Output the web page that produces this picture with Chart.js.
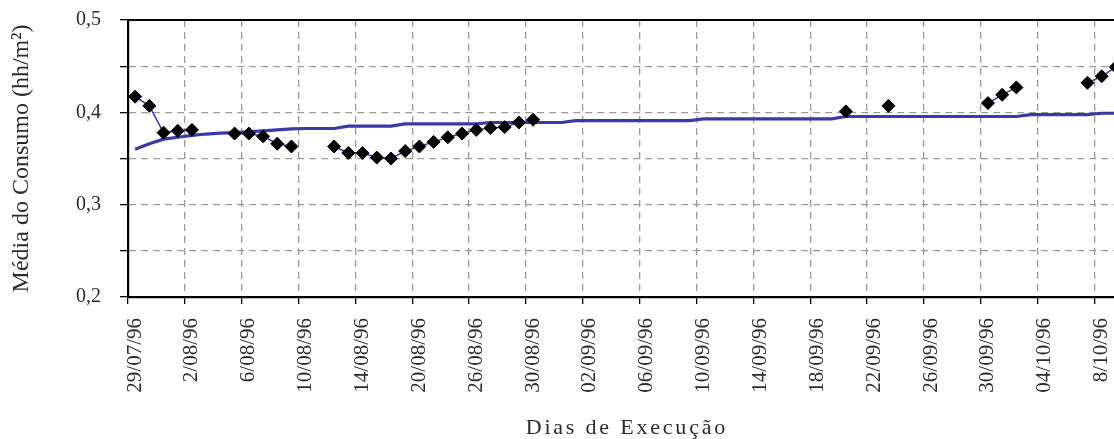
<!DOCTYPE html>
<html lang="pt">
<head>
<meta charset="utf-8">
<title>Média do Consumo por Dias de Execução</title>
<script src="https://cdn.jsdelivr.net/npm/chart.js@4/dist/chart.umd.min.js"></script>
<style>
  html, body { margin: 0; padding: 0; background: #ffffff; overflow: hidden; }
  #wrap { width: 1114px; height: 439px; overflow: hidden; }
  canvas { display: block; }
</style>
</head>
<body>
<div id="wrap"><canvas id="chart" width="1160" height="439"></canvas></div>
<script>
// Dates shown under every fourth execution day
const dateLabels = ['29/07/96', '2/08/96', '6/08/96', '10/08/96', '14/08/96', '20/08/96',
  '26/08/96', '30/08/96', '02/09/96', '06/09/96', '10/09/96', '14/09/96', '18/09/96',
  '22/09/96', '26/09/96', '30/09/96', '04/10/96', '8/10/96'];

// Measured daily consumption (hh/m²); null = no measurement that day
const measured = [
  0.417, 0.407, 0.378, 0.380, 0.381, null, null, 0.377, 0.377, 0.374,
  0.366, 0.363, null, null, 0.363, 0.356, 0.356, 0.351, 0.350, 0.358,
  0.363, 0.368, 0.373, 0.377, 0.381, 0.383, 0.384, 0.389, 0.392, null,
  null, null, null, null, null, null, null, null, null, null,
  null, null, null, null, null, null, null, null, null, null,
  0.401, null, null, 0.407, null, null, null, null, null, null,
  0.410, 0.419, 0.427, null, null, null, null, 0.432, 0.439, 0.449
];

// Mean consumption curve
const meanCurve = [
  0.360, 0.366, 0.371, 0.373, 0.375, 0.3765, 0.3775, 0.378, 0.379, 0.380,
  0.381, 0.382, 0.3825, 0.3825, 0.3825, 0.385, 0.385, 0.385, 0.385, 0.3875,
  0.3875, 0.3875, 0.3875, 0.3875, 0.3875, 0.389, 0.389, 0.389, 0.389, 0.389,
  0.389, 0.391, 0.391, 0.391, 0.391, 0.391, 0.391, 0.391, 0.391, 0.391,
  0.393, 0.393, 0.393, 0.393, 0.393, 0.393, 0.393, 0.393, 0.393, 0.393,
  0.3955, 0.3955, 0.3955, 0.3955, 0.3955, 0.3955, 0.3955, 0.3955, 0.3955, 0.3955,
  0.3955, 0.3955, 0.3955, 0.3975, 0.3975, 0.3975, 0.3975, 0.3975, 0.399, 0.399
];

const yTicks = { min: 0.2, max: 0.5, step: 0.05 };
const labelEvery = 4;

// One category per execution day, dated every fourth day
const categories = measured.map((_, i) => (i % labelEvery === 0 ? dateLabels[i / labelEvery] : ''));

const serif = 'Liberation Serif';
const textColor = '#2b2b2b';
const gridColor = '#9a9a9a';
const blue = '#3a3aa6';
const clear = 'rgba(0,0,0,0)';

// Solid frame line along the top of the plot area
const framePlugin = {
  id: 'frameTop',
  afterDraw(chart) {
    const { ctx, chartArea: a } = chart;
    ctx.save();
    ctx.strokeStyle = '#000';
    ctx.lineWidth = 2.2;
    ctx.beginPath();
    ctx.moveTo(a.left, a.top);
    ctx.lineTo(a.right, a.top);
    ctx.lineTo(a.right, a.bottom);
    ctx.stroke();
    ctx.restore();
  }
};

// Letter-spaced caption under the x axis
const xCaptionPlugin = {
  id: 'xCaption',
  afterDraw(chart, args, opts) {
    const { ctx, chartArea: a } = chart;
    ctx.save();
    ctx.font = opts.size + 'px "' + serif + '"';
    ctx.fillStyle = textColor;
    ctx.textAlign = 'center';
    ctx.textBaseline = 'alphabetic';
    if ('letterSpacing' in ctx) ctx.letterSpacing = opts.spacing + 'px';
    ctx.fillText(opts.text, (a.left + a.right) / 2 + opts.spacing / 2, opts.baseline);
    ctx.restore();
  }
};

new Chart(document.getElementById('chart'), {
  type: 'line',
  data: {
    labels: categories,
    datasets: [
      {
        label: 'Consumo diário',
        data: measured,
        borderColor: blue,
        borderWidth: 1.5,
        pointStyle: 'rectRot',
        pointRadius: 6.5,
        pointBackgroundColor: '#000',
        pointBorderColor: '#000',
        pointBorderWidth: 1,
        spanGaps: false,
        tension: 0
      },
      {
        label: 'Média',
        data: meanCurve,
        borderColor: blue,
        borderWidth: 3.2,
        pointRadius: 0,
        tension: 0
      }
    ]
  },
  options: {
    responsive: false,
    animation: false,
    devicePixelRatio: 1,
    layout: { padding: { top: 20, right: 37, left: 0, bottom: 0 } },
    plugins: {
      legend: { display: false },
      tooltip: { enabled: false },
      xCaption: { text: 'Dias de Execução', size: 22, spacing: 2.8, baseline: 434 }
    },
    scales: {
      x: {
        type: 'category',
        offset: true,
        grid: {
          offset: true,
          drawOnChartArea: true,
          lineWidth: 1.3,
          color: (c) => (c.index % labelEvery === 0 ? gridColor : clear),
          tickColor: (c) => (c.index % labelEvery === 0 ? '#000' : clear),
          tickLength: 7,
          tickWidth: 1.3
        },
        border: { display: true, color: '#000', width: 2.2, dash: [7, 5] },
        ticks: {
          autoSkip: false,
          minRotation: 90,
          maxRotation: 90,
          padding: 14,
          color: textColor,
          font: { family: serif, size: 21 }
        },
        afterFit(scale) {
          scale.height = 142;
          scale.paddingLeft = 0;
          scale.paddingRight = 0;
        }
      },
      y: {
        min: yTicks.min,
        max: yTicks.max,
        grid: {
          lineWidth: 1.3,
          color: (c) => {
            const v = c.tick ? c.tick.value : NaN;
            return (Math.abs(v - yTicks.min) < 1e-6 || Math.abs(v - yTicks.max) < 1e-6) ? clear : gridColor;
          },
          tickColor: '#000',
          tickLength: 8,
          tickWidth: 1.3
        },
        border: { display: true, color: '#000', width: 2.2, dash: [7, 5] },
        ticks: {
          stepSize: yTicks.step,
          padding: 19,
          color: textColor,
          font: { family: serif, size: 20 },
          callback: (v) => {
            const hundredths = Math.round(v * 100);
            return hundredths % 10 === 0 ? (hundredths / 100).toFixed(1).replace('.', ',') : '';
          }
        },
        title: {
          display: true,
          text: 'Média do Consumo (hh/m²)',
          color: textColor,
          font: { family: serif, size: 24 },
          padding: { top: 7, bottom: 0 }
        },
        afterFit(scale) {
          scale.width = 128;
          scale.paddingTop = 0;
          scale.paddingBottom = 0;
        }
      }
    }
  },
  plugins: [framePlugin, xCaptionPlugin]
});
</script>
</body>
</html>
